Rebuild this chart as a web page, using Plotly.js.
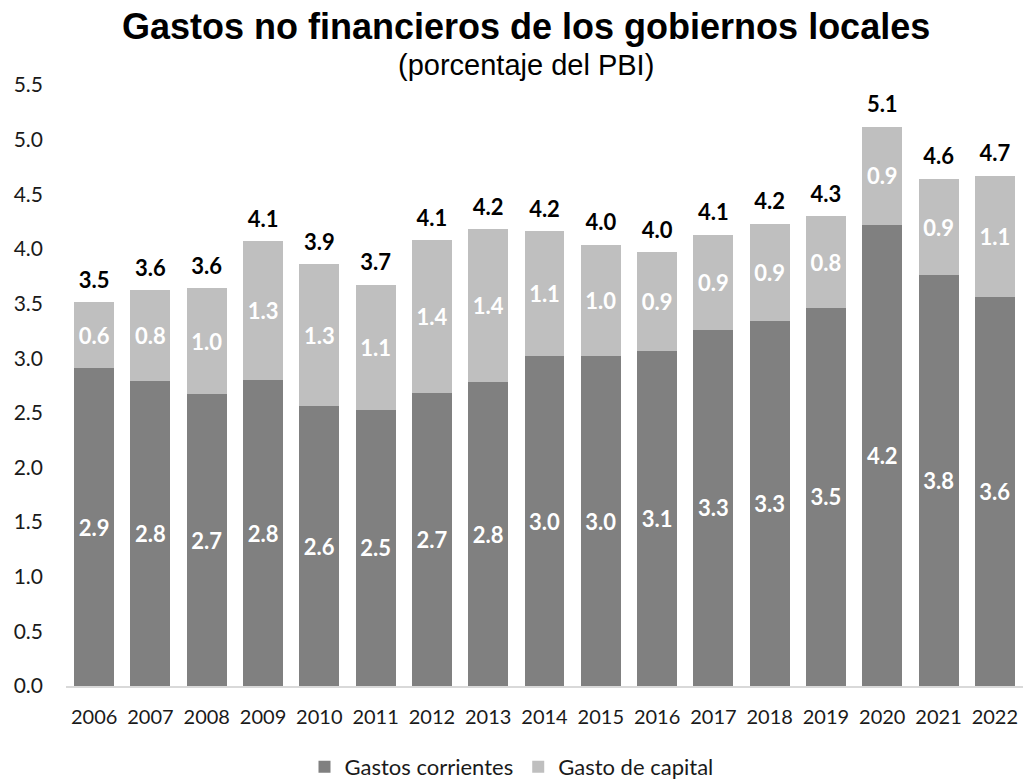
<!DOCTYPE html>
<html>
<head>
<meta charset="utf-8">
<script src="https://cdn.plot.ly/plotly-3.0.1.min.js"></script>
<style>html,body{margin:0;padding:0;background:#fff;}#chart{width:1023px;height:781px;}</style>
</head>
<body>
<div id="chart"></div>
<script>
const years = ['2006','2007','2008','2009','2010','2011','2012','2013','2014','2015','2016','2017','2018','2019','2020','2021','2022'];
const gastosCorrientes = [2.91, 2.79, 2.67, 2.80, 2.56, 2.53, 2.68, 2.78, 3.02, 3.02, 3.07, 3.26, 3.34, 3.46, 4.22, 3.76, 3.56];
const gastoCapital = [0.60, 0.83, 0.97, 1.27, 1.30, 1.14, 1.40, 1.40, 1.14, 1.02, 0.90, 0.87, 0.89, 0.84, 0.90, 0.88, 1.11];
const yTicks = [0, 0.5, 1, 1.5, 2, 2.5, 3, 3.5, 4, 4.5, 5, 5.5];

const totals = gastosCorrientes.map((v, i) => v + gastoCapital[i]);

const labelFont = {family: 'Lato, "Open Sans", sans-serif', size: 22, color: '#ffffff', weight: 'bold'};

const traces = [
  {
    type: 'bar', name: 'Gastos corrientes', x: years, y: gastosCorrientes,
    marker: {color: '#808080'},
    text: gastosCorrientes.map(v => v.toFixed(1)), textposition: 'inside', insidetextanchor: 'middle',
    textfont: labelFont, constraintext: 'none', hoverinfo: 'skip'
  },
  {
    type: 'bar', name: 'Gasto de capital', x: years, y: gastoCapital,
    marker: {color: '#bfbfbf'},
    text: gastoCapital.map(v => v.toFixed(1)), textposition: 'inside', insidetextanchor: 'middle',
    textfont: labelFont, constraintext: 'none', hoverinfo: 'skip'
  },
  {
    type: 'scatter', mode: 'markers+text', x: years, y: totals, showlegend: false,
    marker: {size: 13, color: 'rgba(0,0,0,0)'},
    text: totals.map(v => v.toFixed(1)), textposition: 'top center',
    textfont: {family: 'Lato, "Open Sans", sans-serif', size: 22, color: '#000000', weight: 'bold'},
    hoverinfo: 'skip', cliponaxis: false
  }
];

const layout = {
  width: 1023, height: 781,
  paper_bgcolor: '#ffffff', plot_bgcolor: '#ffffff',
  margin: {l: 66, r: 0, t: 85, b: 95},
  barmode: 'stack', bargap: 0.29,
  showlegend: true,
  font: {family: 'Lato, sans-serif', color: '#262626'},
  xaxis: {
    type: 'category', range: [-0.5, 16.5], autorange: false, showgrid: false, zeroline: false,
    showline: true, linecolor: '#d9d9d9', linewidth: 1.5,
    ticks: '', ticklabelstandoff: 12, automargin: false,
    tickfont: {family: 'Lato, sans-serif', size: 20, color: '#1a1a1a'}
  },
  yaxis: {
    range: [0, 5.5], autorange: false, tickvals: yTicks, ticktext: yTicks.map(v => v.toFixed(1)),
    showgrid: false, zeroline: false, showline: false, ticks: '', ticklabelstandoff: 22, automargin: false,
    tickfont: {family: 'Lato, sans-serif', size: 21, color: '#1a1a1a'}
  },
  legend: {
    orientation: 'h', xref: 'container', yref: 'container', x: 0.5, xanchor: 'center', y: 0.018, yanchor: 'middle',
    font: {family: 'Lato, sans-serif', size: 22, color: '#1a1a1a'}, traceorder: 'normal'
  },
  annotations: [
    {text: '<b>Gastos no financieros de los gobiernos locales</b>', xref: 'paper', yref: 'paper', x: 0.4807, y: 1.0975,
     showarrow: false, xanchor: 'center', yanchor: 'middle',
     font: {family: '"Liberation Sans", Arial, sans-serif', size: 36, color: '#000'}},
    {text: '(porcentaje del PBI)', xref: 'paper', yref: 'paper', x: 0.4807, y: 1.0333,
     showarrow: false, xanchor: 'center', yanchor: 'middle',
     font: {family: '"Liberation Sans", Arial, sans-serif', size: 29, color: '#000'}}
  ]
};

Plotly.newPlot('chart', traces, layout, {displayModeBar: false, staticPlot: true});
</script>
</body>
</html>
